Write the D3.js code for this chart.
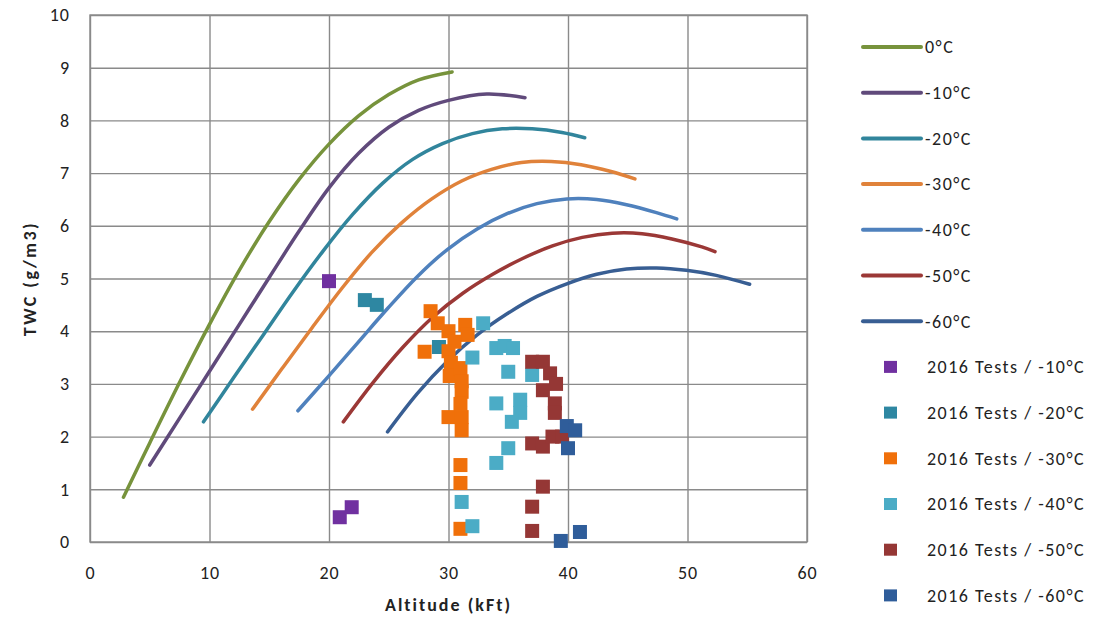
<!DOCTYPE html>
<html>
<head>
<meta charset="utf-8">
<script src="https://cdn.jsdelivr.net/npm/d3@7"></script>
<style>
  body { margin: 0; background: #fff; }
  svg { display: block; font-family: Calibri, Lato, "Open Sans", sans-serif; }
</style>
</head>
<body>
<div id="chart"></div>
<script>
// envelope curves, [altitude kFt, TWC g/m3]
const curve0 = [[2.8,0.85],[5,1.88],[7.5,3.03],[10,4.13],[12.5,5.16],[15,6.08],[17.5,6.88],[20,7.55],[22.5,8.09],[25,8.49],[27.5,8.77],[30.3,8.92]];
const curve10 = [[5,1.46],[7.5,2.35],[10,3.24],[12.5,4.13],[15,5.02],[17.5,5.9],[20,6.72],[22.5,7.38],[25,7.87],[27.5,8.19],[30,8.38],[33.2,8.5],[36.4,8.43]];
const curve20 = [[9.5,2.28],[12,3.11],[14.5,3.93],[17,4.75],[19.5,5.52],[22,6.22],[24.5,6.81],[27,7.26],[29.5,7.56],[32,7.75],[34.5,7.84],[37,7.84],[39.5,7.77],[41.4,7.67]];
const curve30 = [[13.6,2.52],[16.1,3.3],[18.6,4.07],[21.1,4.82],[23.6,5.5],[26.1,6.06],[28.6,6.51],[31.1,6.85],[33.6,7.07],[36.1,7.2],[38.6,7.22],[41.1,7.16],[43.6,7.03],[45.6,6.89]];
const curve40 = [[17.4,2.49],[19.9,3.13],[22.4,3.78],[24.9,4.43],[27.4,5.04],[29.9,5.55],[32.4,5.94],[34.9,6.23],[37.4,6.42],[39.9,6.51],[42.4,6.5],[44.9,6.4],[47.4,6.25],[49.1,6.13]];
const curve50 = [[21.2,2.28],[23.7,3.03],[26.2,3.7],[28.7,4.27],[31.2,4.72],[33.7,5.08],[36.2,5.38],[38.7,5.62],[41.2,5.78],[43.7,5.86],[46.2,5.85],[48.7,5.75],[51.2,5.6],[52.3,5.51]];
const curve60 = [[24.9,2.09],[27.4,2.82],[29.9,3.43],[32.4,3.93],[34.9,4.33],[37.4,4.66],[39.9,4.9],[42.4,5.08],[44.9,5.18],[47.4,5.2],[49.9,5.155],[52.4,5.06],[55.2,4.89]];

// 2016 test points
const tests10 = [[20,4.95],[20.9,0.47],[21.9,0.66]];
const tests20 = [[23,4.59],[24,4.5],[29.2,3.7]];
const tests30 = [[28.5,4.38],[29.1,4.15],[28,3.61],[30,4],[31.4,4.12],[31.6,3.93],[30.5,3.8],[30,3.62],[30.2,3.4],[30.1,3.15],[31,3.3],[31.1,3.05],[31.1,2.85],[31,2.62],[30,2.37],[31.1,2.37],[31.1,2.12],[31,1.46],[31,1.12],[31,0.25]];
const tests40 = [[32.9,4.15],[32,3.5],[34,3.68],[34.7,3.72],[35.4,3.68],[35,3.23],[37,3.17],[34,2.63],[36,2.7],[36,2.45],[35.3,2.28],[35,1.78],[34,1.5],[31.1,0.76],[32,0.3]];
const tests50 = [[37,3.42],[37.9,3.42],[38.5,3.2],[39,3],[37.9,2.88],[38.9,2.63],[38.9,2.45],[37,1.87],[37.9,1.81],[38.7,2],[39.5,2],[37.9,1.05],[37,0.67],[37,0.21]];
const tests60 = [[39.9,2.2],[40.6,2.12],[40,1.78],[39.4,0.02],[41,0.19]];

const curveNames = ['0°C', '-10°C', '-20°C', '-30°C', '-40°C', '-50°C', '-60°C'];
const testNames = ['2016 Tests / -10°C', '2016 Tests / -20°C', '2016 Tests / -30°C', '2016 Tests / -40°C', '2016 Tests / -50°C', '2016 Tests / -60°C'];
const xTicks = [0, 10, 20, 30, 40, 50, 60];
const yTicks = [0, 1, 2, 3, 4, 5, 6, 7, 8, 9, 10];

const curveColors = ['#77933C', '#604A7B', '#31859C', '#E0823A', '#4F81BD', '#9B3836', '#385E93'];
const testColors = ['#7030A0', '#2E87A2', '#F0700A', '#4BACC6', '#953735', '#2F5D9A'];

const curves = [curve0, curve10, curve20, curve30, curve40, curve50, curve60];
const tests = [tests10, tests20, tests30, tests40, tests50, tests60];

const W = 1108, H = 621;
const margin = { top: 15, left: 90, right: 301, bottom: 79 };
const width = W - margin.left - margin.right;
const height = H - margin.top - margin.bottom;

const svg = d3.select('#chart').append('svg')
    .attr('width', W)
    .attr('height', H);

const g = svg.append('g')
    .attr('transform', `translate(${margin.left},${margin.top})`);

const x = d3.scaleLinear().domain([0, 60]).range([0, width]);
const y = d3.scaleLinear().domain([0, 10]).range([height, 0]);

// gridlines
g.append('g')
    .attr('transform', `translate(0,${height})`)
    .call(d3.axisBottom(x).tickValues(xTicks).tickSize(-height).tickFormat(''))
    .call(s => s.select('.domain').remove())
    .selectAll('.tick line')
    .attr('stroke', '#8a8a8a')
    .attr('stroke-width', 1.4);

g.append('g')
    .call(d3.axisLeft(y).tickValues(yTicks).tickSize(-width).tickFormat(''))
    .call(s => s.select('.domain').remove())
    .selectAll('.tick line')
    .attr('stroke', '#8a8a8a')
    .attr('stroke-width', 1.4);

// tick labels
g.append('g')
    .attr('transform', `translate(0,${height})`)
    .call(d3.axisBottom(x).tickValues(xTicks).tickSize(0).tickPadding(24))
    .call(s => s.select('.domain').remove())
    .selectAll('text')
    .attr('fill', '#222')
    .style('font-size', '18px')
    .style('letter-spacing', '1px')
    .style('font-family', 'Calibri, Lato, sans-serif');

g.append('g')
    .call(d3.axisLeft(y).tickValues(yTicks).tickSize(0).tickPadding(20))
    .call(s => s.select('.domain').remove())
    .selectAll('text')
    .attr('fill', '#222')
    .style('font-size', '18px')
    .style('letter-spacing', '1px')
    .style('font-family', 'Calibri, Lato, sans-serif');

// frame
g.append('rect')
    .attr('width', width)
    .attr('height', height)
    .attr('fill', 'none')
    .attr('stroke', '#8a8a8a')
    .attr('stroke-width', 1.4);

// curves, smoothed like the spreadsheet lines
const line = d3.line()
    .x(d => x(d[0]))
    .y(d => y(d[1]))
    .curve(d3.curveCatmullRom.alpha(0.5));

curves.forEach((c, i) => {
    g.append('path')
        .datum(c)
        .attr('fill', 'none')
        .attr('stroke', curveColors[i])
        .attr('stroke-width', 3.5)
        .attr('stroke-linecap', 'round')
        .attr('d', line);
});

// test points
const ms = 14;
tests.forEach((t, i) => {
    g.append('g').selectAll('rect')
        .data(t)
        .enter()
        .append('rect')
        .attr('x', d => x(d[0]) - ms / 2)
        .attr('y', d => y(d[1]) - ms / 2)
        .attr('width', ms)
        .attr('height', ms)
        .attr('fill', testColors[i]);
});

// axis titles
svg.append('text')
    .attr('x', margin.left + width / 2)
    .attr('y', 611)
    .attr('text-anchor', 'middle')
    .style('font-size', '18px')
    .style('font-weight', 'bold')
    .style('letter-spacing', '2px')
    .attr('fill', '#222')
    .text('Altitude (kFt)');

svg.append('text')
    .attr('transform', `translate(36,${margin.top + height / 2}) rotate(-90)`)
    .attr('text-anchor', 'middle')
    .style('font-size', '18px')
    .style('font-weight', 'bold')
    .style('letter-spacing', '2.5px')
    .attr('fill', '#222')
    .text('TWC (g/m3)');

// legend
const legend = svg.append('g');
const rowY = i => 47 + i * 45.7;

curveNames.forEach((name, i) => {
    const row = legend.append('g').attr('transform', `translate(0,${rowY(i)})`);
    row.append('line')
        .attr('x1', 863).attr('x2', 921)
        .attr('stroke', curveColors[i])
        .attr('stroke-width', 4)
        .attr('stroke-linecap', 'round');
    row.append('text')
        .attr('x', 925)
        .attr('dy', '0.35em')
        .style('font-size', '18px')
        .style('letter-spacing', '1.5px')
        .attr('fill', '#222')
        .text(name);
});

testNames.forEach((name, i) => {
    const row = legend.append('g').attr('transform', `translate(0,${rowY(i + 7)})`);
    row.append('rect')
        .attr('x', 884).attr('y', -6)
        .attr('width', 13).attr('height', 12)
        .attr('fill', testColors[i]);
    row.append('text')
        .attr('x', 927)
        .attr('dy', '0.35em')
        .style('font-size', '18px')
        .style('letter-spacing', '1.5px')
        .attr('fill', '#222')
        .text(name);
});
</script>
</body>
</html>
